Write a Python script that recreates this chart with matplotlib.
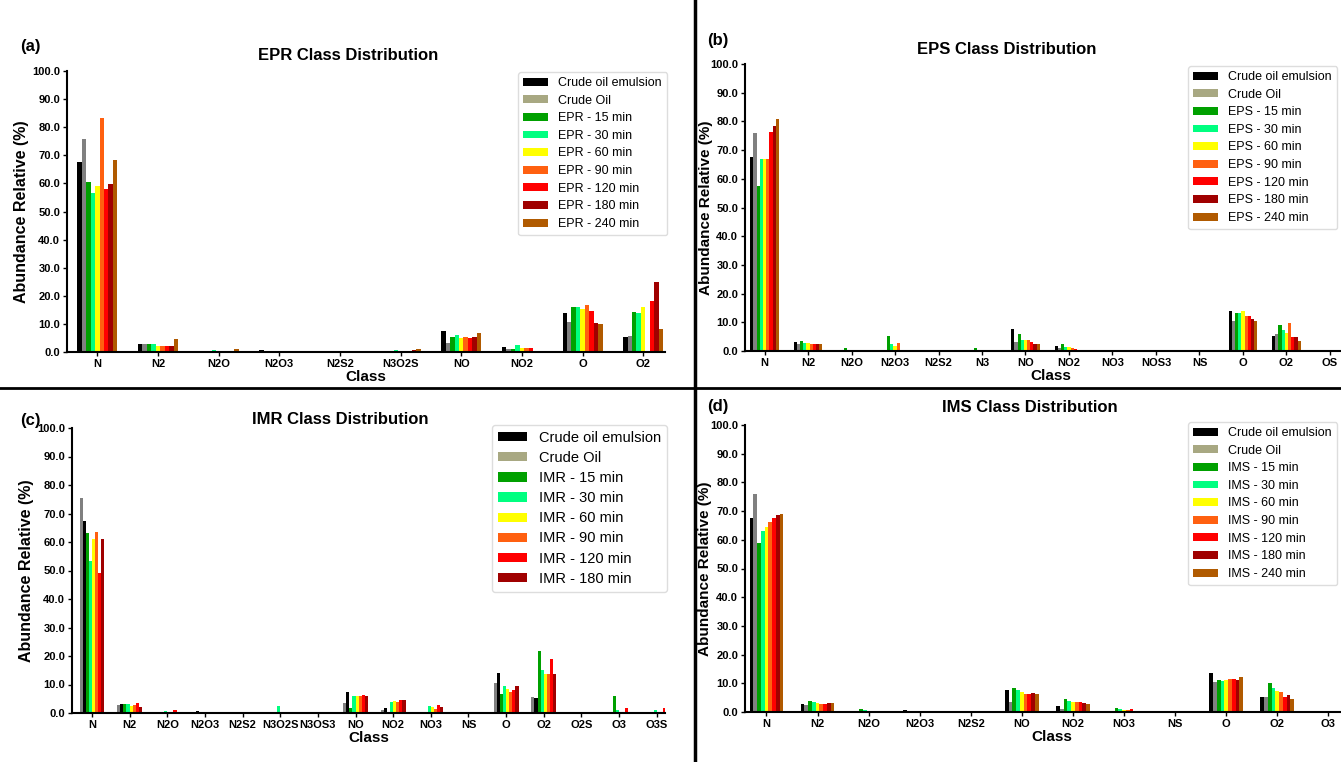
import matplotlib
matplotlib.use('Agg')
import matplotlib.pyplot as plt
from matplotlib.patches import Patch
from matplotlib.lines import Line2D
import numpy as np

plt.rcParams['font.family'] = ['Liberation Sans', 'DejaVu Sans']

#Colours of the series (bars use grey for crude oil, legend shows khaki)
colours = ['#000000', '#808080', '#00a000', '#00ff80', '#ffff00', '#ff6010', '#ff0000', '#a00000', '#b05a00']
legend_colours = ['#000000', '#a8a882', '#00a000', '#00ff80', '#ffff00', '#ff6010', '#ff0000', '#a00000', '#b05a00']
times = ['15 min', '30 min', '60 min', '90 min', '120 min', '180 min', '240 min']

#(a) EPR
epr_classes = ['N', 'N2', 'N2O', 'N2O3', 'N2S2', 'N3O2S', 'NO', 'NO2', 'O', 'O2']
epr_emulsion = [67.5, 3.0, 0.0, 0.8, 0.0, 0.0, 7.6, 1.9, 14.0, 5.3]
epr_crude = [75.7, 2.8, 0.0, 0.3, 0.2, 0.0, 3.3, 1.2, 10.6, 5.7]
epr_15 = [60.4, 2.7, 0.2, 0.5, 0.0, 0.0, 5.2, 1.1, 16.0, 14.2]
epr_30 = [56.7, 2.9, 0.7, 0.1, 0.0, 0.8, 6.0, 2.5, 15.9, 13.8]
epr_60 = [59.2, 2.3, 0.3, 0.1, 0.0, 0.4, 5.1, 1.5, 15.2, 16.0]
epr_90 = [83.4, 2.0, 0.4, 0.1, 0.0, 0.5, 5.2, 1.3, 16.8, 0.0]
epr_120 = [57.9, 2.0, 0.3, 0.0, 0.0, 0.5, 5.1, 1.3, 14.7, 18.3]
epr_180 = [59.7, 2.1, 0.5, 0.0, 0.0, 0.7, 5.2, 0.3, 10.2, 25.0]
epr_240 = [68.3, 4.5, 1.2, 0.0, 0.0, 1.0, 6.8, 0.0, 9.8, 8.1]

#(b) EPS
eps_classes = ['N', 'N2', 'N2O', 'N2O3', 'N2S2', 'N3', 'NO', 'NO2', 'NO3', 'NOS3', 'NS', 'O', 'O2', 'OS']
eps_emulsion = [67.6, 3.0, 0.0, 0.5, 0.0, 0.0, 7.5, 1.9, 0.0, 0.0, 0.0, 13.9, 5.3, 0.0]
eps_crude = [75.8, 2.6, 0.0, 0.0, 0.2, 0.0, 3.3, 1.0, 0.0, 0.0, 0.0, 10.5, 5.8, 0.0]
eps_15 = [57.4, 3.5, 0.9, 5.1, 0.3, 1.0, 6.0, 2.6, 0.0, 0.0, 0.4, 13.2, 8.9, 0.0]
eps_30 = [66.9, 2.8, 0.3, 2.6, 0.3, 0.2, 3.9, 1.4, 0.0, 0.0, 0.4, 13.3, 7.2, 0.0]
eps_60 = [66.9, 2.9, 0.1, 1.8, 0.3, 0.0, 3.9, 1.4, 0.0, 0.0, 0.3, 13.8, 6.1, 0.0]
eps_90 = [66.9, 2.5, 0.1, 2.8, 0.3, 0.0, 3.8, 1.0, 0.0, 0.0, 0.3, 12.3, 9.8, 0.0]
eps_120 = [76.4, 2.5, 0.0, 0.0, 0.3, 0.0, 3.0, 0.7, 0.0, 0.0, 0.2, 12.1, 4.8, 0.0]
eps_180 = [78.5, 2.4, 0.0, 0.0, 0.2, 0.0, 2.6, 0.4, 0.0, 0.0, 0.1, 11.0, 4.8, 0.0]
eps_240 = [80.7, 2.4, 0.0, 0.0, 0.0, 0.0, 2.5, 0.3, 0.0, 0.0, 0.1, 10.6, 3.5, 0.0]

#(c) IMR (no 240 min)
imr_classes = ['N', 'N2', 'N2O', 'N2O3', 'N2S2', 'N3O2S', 'N3OS3', 'NO', 'NO2', 'NO3', 'NS', 'O', 'O2', 'O2S', 'O3', 'O3S']
imr_emulsion = [67.4, 3.0, 0.0, 0.7, 0.2, 0.0, 0.0, 7.4, 1.8, 0.0, 0.0, 13.9, 5.2, 0.0, 0.0, 0.0]
imr_crude = [75.5, 2.8, 0.0, 0.0, 0.3, 0.0, 0.0, 3.4, 1.0, 0.0, 0.0, 10.7, 5.6, 0.0, 0.0, 0.0]
imr_15 = [63.1, 3.0, 0.2, 0.0, 0.0, 0.0, 0.0, 1.8, 0.3, 0.0, 0.0, 6.7, 21.8, 0.0, 6.1, 0.0]
imr_30 = [53.3, 3.0, 0.7, 0.0, 0.0, 2.6, 0.0, 6.1, 3.9, 2.6, 0.0, 9.5, 15.0, 0.0, 1.2, 1.0]
imr_60 = [61.0, 2.3, 0.4, 0.0, 0.2, 0.0, 0.0, 6.1, 4.3, 2.0, 0.0, 8.4, 13.6, 0.0, 0.0, 0.0]
imr_90 = [63.5, 2.8, 0.4, 0.0, 0.0, 0.0, 0.0, 5.8, 4.0, 1.3, 0.0, 7.4, 13.6, 0.0, 0.0, 0.0]
imr_120 = [49.2, 3.6, 1.0, 0.0, 0.0, 0.4, 0.0, 6.4, 4.4, 2.9, 0.0, 8.1, 18.9, 0.0, 1.8, 1.8]
imr_180 = [61.0, 2.1, 0.5, 0.0, 0.0, 0.0, 0.0, 5.9, 4.4, 2.0, 0.0, 9.4, 13.6, 0.0, 0.0, 0.0]

#(d) IMS
ims_classes = ['N', 'N2', 'N2O', 'N2O3', 'N2S2', 'NO', 'NO2', 'NO3', 'NS', 'O', 'O2', 'O3']
ims_emulsion = [67.7, 2.9, 0.0, 0.6, 0.0, 7.6, 2.0, 0.0, 0.0, 13.6, 5.1, 0.0]
ims_crude = [75.9, 2.6, 0.0, 0.0, 0.0, 3.4, 1.2, 0.0, 0.0, 10.3, 5.4, 0.0]
ims_15 = [59.0, 3.7, 1.0, 0.0, 0.0, 8.4, 4.6, 1.3, 0.3, 11.0, 10.1, 0.0]
ims_30 = [63.1, 3.4, 0.6, 0.0, 0.0, 7.6, 3.9, 0.9, 0.3, 10.8, 8.2, 0.0]
ims_60 = [64.5, 3.0, 0.4, 0.0, 0.0, 7.0, 3.6, 0.8, 0.3, 11.1, 7.2, 0.0]
ims_90 = [66.1, 2.8, 0.3, 0.0, 0.0, 6.4, 3.6, 0.8, 0.3, 11.4, 6.9, 0.0]
ims_120 = [67.7, 2.8, 0.2, 0.0, 0.0, 6.4, 3.5, 0.9, 0.4, 11.6, 5.4, 0.0]
ims_180 = [68.5, 3.0, 0.2, 0.0, 0.0, 6.6, 3.0, 0.5, 0.4, 11.1, 5.9, 0.0]
ims_240 = [69.1, 3.1, 0.2, 0.0, 0.0, 6.4, 2.8, 0.2, 0.4, 12.3, 4.6, 0.0]

W, H = 1341, 762
fig = plt.figure(figsize=(W/100, H/100), dpi=100)

def draw_panel(rect, classes, series, prefix, xlim, order, letter, letter_xy, title_xy, leg_xy, leg_size, leg_space, ylab_x, ylab_size):
    ax = fig.add_axes(rect)
    n = len(series)
    group = 0.66
    w = group/n
    x = np.arange(len(classes))
    for j, vals in enumerate(series):
        slot = order[j]
        ax.bar(x + (slot - (n-1)/2)*w, vals, width=w, color=colours[j], linewidth=0)
    ax.set_xlim(xlim)
    ax.set_ylim(0, 100)
    ax.set_yticks(np.arange(0, 101, 10))
    ax.set_yticklabels(['%.1f' % v for v in np.arange(0, 101, 10)])
    ax.set_xticks(x)
    ax.set_xticklabels(classes)
    for lab in ax.get_xticklabels() + ax.get_yticklabels():
        lab.set_fontweight('bold')
        lab.set_fontsize(8)
    ax.tick_params(direction='out', length=3, width=1, pad=2)
    ax.spines['top'].set_visible(False)
    ax.spines['right'].set_visible(False)
    ax.spines['left'].set_linewidth(1.5)
    ax.spines['bottom'].set_linewidth(1.5)
    ax.set_xlabel('Class', fontweight='bold', fontsize=11, labelpad=1)
    ax.set_ylabel('Abundance Relative (%)', fontweight='bold', fontsize=ylab_size)
    ax.yaxis.set_label_coords(ylab_x, 0.5)
    labels = ['Crude oil emulsion', 'Crude Oil'] + [prefix + ' - ' + t for t in times[:n-2]]
    handles = [Patch(facecolor=legend_colours[j], edgecolor='none') for j in range(n)]
    ax.legend(handles, labels, loc='upper right', bbox_to_anchor=leg_xy, bbox_transform=fig.transFigure,
              borderaxespad=0, fontsize=leg_size, handlelength=2.0, handleheight=0.6,
              labelspacing=leg_space, framealpha=1, edgecolor='#dddddd')
    fig.text(letter_xy[0]/W, 1 - letter_xy[1]/H, letter, fontweight='bold', fontsize=12, ha='center', va='center')
    fig.text(title_xy[0]/W, 1 - title_xy[1]/H, prefix + ' Class Distribution', fontweight='bold', fontsize=12, ha='center', va='center')
    return ax

full = [0, 1, 2, 3, 4, 5, 6, 7, 8]
draw_panel([67/W, 1-352/H, 598/W, 281/H], epr_classes,
           [epr_emulsion, epr_crude, epr_15, epr_30, epr_60, epr_90, epr_120, epr_180, epr_240],
           'EPR', (-0.5, 9.36), full, '(a)', (30, 46), (348, 55), (667/W, 1-72/H), 9, 0.45, -0.064, 11.5)
draw_panel([745/W, 1-351/H, 611/W, 287/H], eps_classes,
           [eps_emulsion, eps_crude, eps_15, eps_30, eps_60, eps_90, eps_120, eps_180, eps_240],
           'EPS', (-0.45, 13.6), full, '(b)', (718, 41), (1007, 50), (1337/W, 1-66/H), 9, 0.45, -0.053, 11)
draw_panel([72/W, 1-713/H, 593/W, 285/H], imr_classes,
           [imr_emulsion, imr_crude, imr_15, imr_30, imr_60, imr_90, imr_120, imr_180],
           'IMR', (-0.53, 15.22), [1, 0, 2, 3, 4, 5, 6, 7], '(c)', (30, 420), (340, 419), (667/W, 1-425/H), 10.5, 0.42, -0.064, 11.5)
draw_panel([745/W, 1-712/H, 614/W, 287/H], ims_classes,
           [ims_emulsion, ims_crude, ims_15, ims_30, ims_60, ims_90, ims_120, ims_180, ims_240],
           'IMS', (-0.42, 11.6), full, '(d)', (718, 407), (1030, 407), (1337/W, 1-422/H), 9, 0.45, -0.053, 11)

#separating lines between the four panels
fig.add_artist(Line2D([695/W, 695/W], [0, 1], color='k', linewidth=2.5, transform=fig.transFigure))
fig.add_artist(Line2D([0, 1], [1-388/H, 1-388/H], color='k', linewidth=2, transform=fig.transFigure))

fig.savefig('out.png', dpi=100)
